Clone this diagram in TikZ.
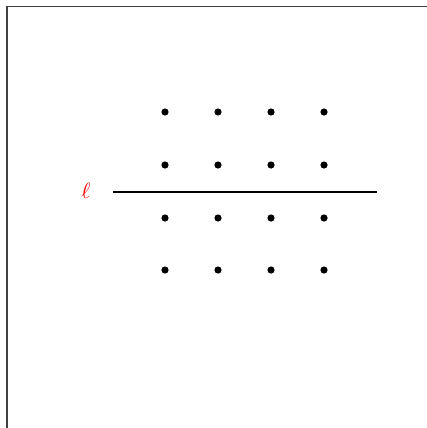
\documentclass[tikz,border=0pt]{standalone}
\begin{document}
\begin{tikzpicture}[x=0.5pt,y=-0.5pt,
  dot/.style={circle,fill=black,inner sep=0pt,minimum size=3.6pt},
  lbl/.style={text=red,inner sep=0pt,scale=1.1}]
\useasboundingbox (0,0) rectangle (427,428);
\coordinate (fa) at (7,428);
\coordinate (fb) at (7,6.5);
\coordinate (fc) at (427,6.5);
\draw[line width=0.8pt,black!75] (fa) -- (fb) -- (fc);
\foreach \i/\x in {1/165,2/218,3/271,4/324}
  \foreach \j/\y in {1/112,2/165,3/218,4/270}
    \node[dot] (d\i\j) at (\x,\y) {};
\coordinate (la) at (113,192);
\coordinate (lb) at (377,192);
\draw[line width=0.6pt] (la) -- (lb);
\node[lbl] (ell) at (86,191) {$\ell$};
\end{tikzpicture}
\end{document}
